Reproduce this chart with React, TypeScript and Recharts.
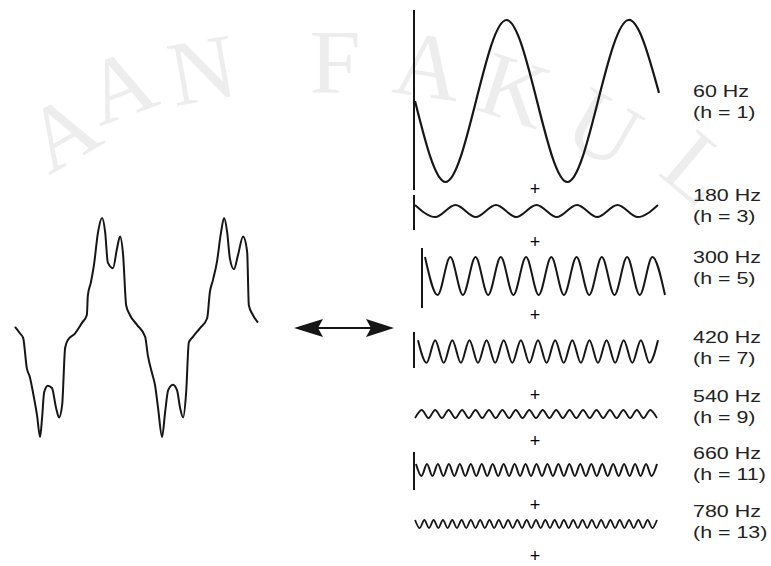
import { LineChart, Line, XAxis, YAxis, ReferenceLine } from 'recharts';

// distorted current: phase in degrees of the 60 Hz wave, value per unit of peak
const compositeDeg = [
  0, 15, 24, 35, 44, 53, 65, 74, 80, 86,
  97, 109, 121, 130, 139, 148, 156, 177, 198, 212,
  215, 224, 233, 245, 257, 266, 274, 289, 301, 310,
  319, 328, 339, 360, 384, 392, 404, 413, 422, 434,
  443, 452, 466, 478, 487, 496, 505, 513, 525, 546,
  567, 575, 584, 596, 608, 617, 626, 634, 646, 658,
  673, 685, 690, 702, 717,
];
const compositeValue = [
  0, -0.06, -0.1, -0.38, -0.46, -0.6, -0.81, -1.01, -0.83, -0.6,
  -0.54, -0.56, -0.74, -0.83, -0.72, -0.19, -0.12, -0.06, 0.04, 0.11,
  0.29, 0.41, 0.57, 0.87, 1.0, 0.87, 0.59, 0.54, 0.72, 0.83,
  0.66, 0.2, 0.11, 0.02, -0.09, -0.26, -0.42, -0.53, -0.74, -1.01,
  -0.78, -0.58, -0.53, -0.58, -0.74, -0.83, -0.6, -0.14, -0.09, -0.01,
  0.08, 0.32, 0.43, 0.6, 0.87, 1.0, 0.87, 0.63, 0.53, 0.66,
  0.83, 0.69, 0.2, 0.11, 0.04,
];

// fundamental, sampled every quarter period (per unit of its own peak)
const h1Values = [0, -1, 0, 1, 0, -1, 0, 1, 0.1];

// harmonics, one value per peak / trough (per unit of the fundamental)
const h3Values = [
  0.075, -0.075, 0.075, -0.075, 0.075, -0.075, 0.075, -0.075, 0.075, -0.075,
  0.075, -0.075, 0.075,
];
const h5Values = [
  0.235, -0.235, 0.235, -0.235, 0.235, -0.235, 0.235, -0.235, 0.235, -0.235,
  0.235, -0.235, 0.235, -0.235, 0.235, -0.235, 0.235, -0.235, 0.235, -0.235,
];
const h7Values = [
  0.14, -0.14, 0.14, -0.14, 0.14, -0.14, 0.14, -0.14, 0.14, -0.14,
  0.14, -0.14, 0.14, -0.14, 0.14, -0.14, 0.14, -0.14, 0.14, -0.14,
  0.14, -0.14, 0.14, -0.14, 0.14, -0.14, 0.14, -0.14, 0.14,
];
const h9Values = [
  -0.05, 0.05, -0.05, 0.05, -0.05, 0.05, -0.05, 0.05, -0.05, 0.05,
  -0.05, 0.05, -0.05, 0.05, -0.05, 0.05, -0.05, 0.05, -0.05, 0.05,
  -0.05, 0.05, -0.05, 0.05, -0.05, 0.05, -0.05, 0.05, -0.05, 0.05,
  -0.05, 0.05, -0.05, 0.05, -0.05, 0.05, -0.05,
];
const h11Values = [
  0.075, -0.075, 0.075, -0.075, 0.075, -0.075, 0.075, -0.075, 0.075, -0.075,
  0.075, -0.075, 0.075, -0.075, 0.075, -0.075, 0.075, -0.075, 0.075, -0.075,
  0.075, -0.075, 0.075, -0.075, 0.075, -0.075, 0.075, -0.075, 0.075, -0.075,
  0.075, -0.075, 0.075, -0.075, 0.075, -0.075, 0.075, -0.075, 0.075, -0.075,
  0.075, -0.075, 0.075, -0.075, 0.075,
];
const h13Values = [
  0.05, -0.05, 0.05, -0.05, 0.05, -0.05, 0.05, -0.05, 0.05, -0.05,
  0.05, -0.05, 0.05, -0.05, 0.05, -0.05, 0.05, -0.05, 0.05, -0.05,
  0.05, -0.05, 0.05, -0.05, 0.05, -0.05, 0.05, -0.05, 0.05, -0.05,
  0.05, -0.05, 0.05, -0.05, 0.05, -0.05, 0.05, -0.05, 0.05, -0.05,
  0.05, -0.05, 0.05, -0.05, 0.05, -0.05, 0.05, -0.05, 0.05, -0.05,
  0.05, -0.05, 0.05,
];

const freqLabels = ['60 Hz', '180 Hz', '300 Hz', '420 Hz', '540 Hz', '660 Hz', '780 Hz'];
const orderLabels = ['(h = 1)', '(h = 3)', '(h = 5)', '(h = 7)', '(h = 9)', '(h = 11)', '(h = 13)'];

// layout (pixels)
const UNIT = 81;
const M = 4;
const INK = '#161616';
const labelTops = [81, 185, 247, 327, 386, 443, 501];
const plusY = [189, 242, 315, 395, 441, 505, 556];

type Axis = { x: number; top: number; bottom: number };
type Curve = 'natural' | 'monotone';
type WaveSpec = { values: number[]; x0: number; x1: number; center: number; axis?: Axis; curve: Curve; sw: number };

const waves: WaveSpec[] = [
  { values: h1Values, x0: 415, x1: 659, center: 101, axis: { x: 414, top: 10, bottom: 190 }, curve: 'natural', sw: 2.2 },
  { values: h3Values, x0: 415, x1: 658, center: 211, axis: { x: 414, top: 195, bottom: 230 }, curve: 'monotone', sw: 2 },
  { values: h5Values, x0: 425, x1: 665, center: 276, axis: { x: 422, top: 248, bottom: 308 }, curve: 'monotone', sw: 2 },
  { values: h7Values, x0: 418, x1: 658, center: 351.5, axis: { x: 414, top: 332, bottom: 368 }, curve: 'monotone', sw: 2 },
  { values: h9Values, x0: 415, x1: 657, center: 414, curve: 'monotone', sw: 1.8 },
  { values: h11Values, x0: 416, x1: 657, center: 470, axis: { x: 414, top: 452, bottom: 490 }, curve: 'monotone', sw: 2 },
  { values: h13Values, x0: 415, x1: 657, center: 524, curve: 'monotone', sw: 1.8 },
];

// faint watermark letters behind the figure
const watermark = [
  { ch: 'A', x: 62, y: 132, rot: -30 },
  { ch: 'A', x: 120, y: 86, rot: -20 },
  { ch: 'N', x: 202, y: 70, rot: -10 },
  { ch: 'F', x: 335, y: 62, rot: 0 },
  { ch: 'A', x: 428, y: 66, rot: 8 },
  { ch: 'K', x: 515, y: 90, rot: 18 },
  { ch: 'U', x: 604, y: 128, rot: 30 },
  { ch: 'L', x: 698, y: 168, rot: 40 },
];

type Box = { left: number; top: number; width: number; height: number };

function Trace({
  data, xDomain, yDomain, box, showAxis, curve, sw,
}: {
  data: { t: number; v: number }[];
  xDomain: [number, number];
  yDomain: [number, number];
  box: Box;
  showAxis: boolean;
  curve: Curve;
  sw: number;
}) {
  return (
    <div style={{ position: 'absolute', left: box.left - M, top: box.top - M }}>
      <LineChart
        width={box.width + 2 * M}
        height={box.height + 2 * M}
        data={data}
        margin={{ top: M, right: M, bottom: M, left: M }}
      >
        <XAxis dataKey="t" type="number" domain={xDomain} hide />
        <YAxis type="number" domain={yDomain} hide />
        {showAxis && (
          <ReferenceLine x={xDomain[0]} stroke={INK} strokeWidth={2} ifOverflow="visible" />
        )}
        <Line
          dataKey="v"
          type={curve}
          stroke={INK}
          strokeWidth={sw}
          dot={false}
          activeDot={false}
          isAnimationActive={false}
        />
      </LineChart>
    </div>
  );
}

function Harmonic({ spec }: { spec: WaveSpec }) {
  const { values, x0, x1, center, axis, curve, sw } = spec;
  const step = (x1 - x0) / (values.length - 1);
  const amp = Math.max(...values.map((v) => Math.abs(v))) * UNIT;
  const left = axis ? axis.x : x0;
  const top = axis ? Math.min(axis.top, center - amp) : center - amp;
  const bottom = axis ? Math.max(axis.bottom, center + amp) : center + amp;
  const data = values.map((v, i) => ({ t: i, v }));
  return (
    <Trace
      data={data}
      xDomain={[-(x0 - left) / step, values.length - 1]}
      yDomain={[(center - bottom) / UNIT, (center - top) / UNIT]}
      box={{ left, top, width: x1 - left, height: bottom - top }}
      showAxis={!!axis}
      curve={curve}
      sw={sw}
    />
  );
}

export default function App() {
  const compositeData = compositeDeg.map((t, i) => ({ t, v: compositeValue[i] }));
  const cCenter = 327;
  const cUnit = 109;
  const cTop = cCenter - 1.0 * cUnit;
  const cBottom = cCenter + 1.01 * cUnit;

  return (
    <div
      style={{
        position: 'absolute',
        left: 0,
        top: 0,
        width: 771,
        height: 566,
        background: '#ffffff',
        overflow: 'hidden',
        fontFamily: '"Liberation Sans", Arial, sans-serif',
      }}
    >
      {/* watermark */}
      <svg width={771} height={566} style={{ position: 'absolute', left: 0, top: 0 }}>
        {watermark.map((w, i) => (
          <text
            key={i}
            x={w.x}
            y={w.y}
            textAnchor="middle"
            dominantBaseline="central"
            fontFamily='"Liberation Serif", "DejaVu Serif", serif'
            fontSize={92}
            fill="#ededed"
            transform={`rotate(${w.rot} ${w.x} ${w.y})`}
          >
            {w.ch}
          </text>
        ))}
      </svg>

      {/* composite wave */}
      <Trace
        data={compositeData}
        xDomain={[0, 717]}
        yDomain={[(cCenter - cBottom) / cUnit, (cCenter - cTop) / cUnit]}
        box={{ left: 15, top: cTop, width: 243, height: cBottom - cTop }}
        showAxis={false}
        curve="monotone"
        sw={2}
      />

      {/* harmonic components */}
      {waves.map((w, i) => (
        <Harmonic key={i} spec={w} />
      ))}

      {/* arrow and plus signs */}
      <svg width={771} height={566} style={{ position: 'absolute', left: 0, top: 0 }}>
        <line x1={318} y1={328} x2={372} y2={328} stroke={INK} strokeWidth={2.2} />
        <path d="M294,328 L323,319 L318,328 L323,337 Z" fill={INK} />
        <path d="M394,328 L366,319 L371,328 L366,337 Z" fill={INK} />
        {plusY.map((y, i) => (
          <text
            key={i}
            x={535}
            y={y}
            textAnchor="middle"
            dominantBaseline="central"
            fontFamily='"Liberation Sans", Arial, sans-serif'
            fontSize={18}
            fill="#000"
          >
            +
          </text>
        ))}
      </svg>

      {/* labels */}
      {freqLabels.map((f, i) => (
        <div
          key={f}
          style={{
            position: 'absolute',
            left: 693,
            top: labelTops[i],
            fontSize: 17,
            lineHeight: '21px',
            color: '#222',
            whiteSpace: 'pre',
            transform: 'scaleX(1.26)',
            transformOrigin: 'left top',
          }}
        >
          <div>{f}</div>
          <div>{orderLabels[i]}</div>
        </div>
      ))}
    </div>
  );
}
